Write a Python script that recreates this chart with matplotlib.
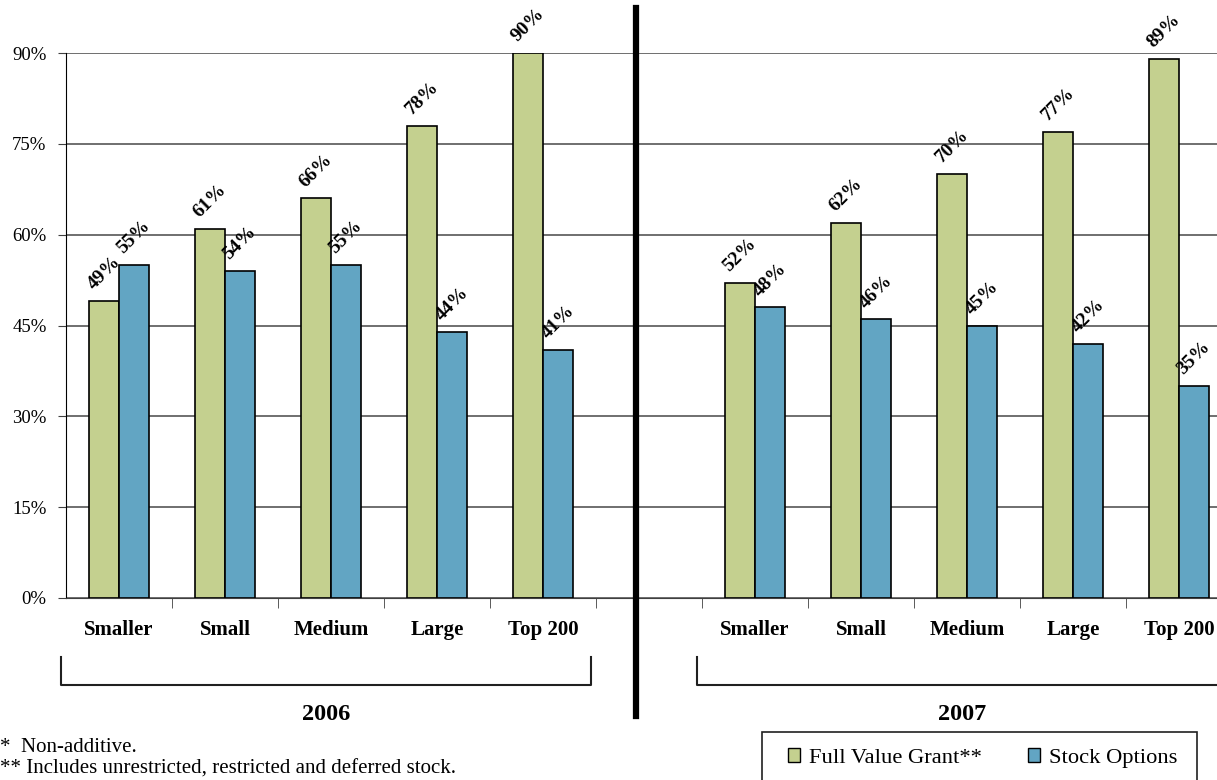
import numpy as np
import matplotlib
matplotlib.use("Agg")
import matplotlib.pyplot as plt
from matplotlib.lines import Line2D
from matplotlib.patches import Patch, Rectangle
from matplotlib.transforms import blended_transform_factory

plt.rcParams["font.family"] = ["Liberation Serif", "DejaVu Serif"]

# Share of companies granting each award type, by company size
sizes = ["Smaller", "Small", "Medium", "Large", "Top 200"]
years = ["2006", "2007"]
full_value_2006 = [49, 61, 66, 78, 90]
stock_options_2006 = [55, 54, 55, 44, 41]
full_value_2007 = [52, 62, 70, 77, 89]
stock_options_2007 = [48, 46, 45, 42, 35]
y_ticks = [0, 15, 30, 45, 60, 75, 90]

GREEN = "#C4D08F"
BLUE = "#62A5C3"
W, H = 1217, 780

fig = plt.figure(figsize=(W / 100, H / 100), dpi=100)
# axes runs past the right edge of the page, like the original slide
ax = fig.add_axes([66 / W, (H - 598) / H, 1166 / W, 545 / H])

# one axis, 5 categories per year with an empty slot between the years
pos_2006 = np.arange(5)
pos_2007 = np.arange(5) + 6
bw = 0.283

full = full_value_2006 + full_value_2007
opts = stock_options_2006 + stock_options_2007
pos = np.concatenate([pos_2006, pos_2007])

bars_full = ax.bar(pos - bw / 2, full, bw, color=GREEN, edgecolor="black", linewidth=1.2, zorder=3)
bars_opts = ax.bar(pos + bw / 2, opts, bw, color=BLUE, edgecolor="black", linewidth=1.2, zorder=3)

# rotated value labels above each bar
for bars, vals in [(bars_full, full), (bars_opts, opts)]:
    for b, v in zip(bars, vals):
        ax.annotate(f"{v}%", (b.get_x() + b.get_width() / 2, v), xytext=(0, 20),
                    textcoords="offset points", rotation=45, rotation_mode="anchor",
                    ha="center", va="center", fontsize=14, fontweight="bold",
                    annotation_clip=False, clip_on=False)

ax.set_xlim(-0.5, 10.5)
ax.set_ylim(0, 90)
ax.set_yticks(y_ticks)
ax.set_yticklabels([f"{t}%" for t in y_ticks], fontsize=13.5)
ax.yaxis.grid(True, color="#484848", linewidth=1.1, zorder=0)
ax.set_axisbelow(True)

ax.set_xticks(pos)
ax.set_xticklabels(sizes * 2, fontsize=15, fontweight="bold")
ax.set_xticks(np.arange(10) + 0.5, minor=True)
ax.tick_params(axis="x", which="major", length=0, pad=16)
ax.tick_params(axis="x", which="minor", length=7, color="#404040")
ax.tick_params(axis="y", length=6, color="#404040", pad=8)

for side in ["top", "right"]:
    ax.spines[side].set_visible(False)
ax.spines["left"].set_color("black")
ax.spines["bottom"].set_color("#404040")

# year brackets under the category labels
trans = blended_transform_factory(ax.transData, ax.transAxes)
for start, year in zip([pos_2006[0], pos_2007[0]], years):
    x0, x1 = start - 0.55, start + 4.45
    ax.add_line(Line2D([x0, x0, x1, x1], [-0.108, -0.160, -0.160, -0.108],
                       transform=trans, color="#202020", linewidth=1.5, clip_on=False))
    ax.text((x0 + x1) / 2, -0.214, year, transform=trans, ha="center", va="center",
            fontsize=17.5, fontweight="bold")

# heavy divider between the two years
fig.add_artist(Line2D([636 / W, 636 / W], [(H - 8) / H, (H - 716) / H],
                      color="black", linewidth=4.5))

fig.text(0.0, (H - 747) / H, "*  Non-additive.", fontsize=15, va="center")
fig.text(0.0, (H - 769) / H, "** Includes unrestricted, restricted and deferred stock.",
         fontsize=15, va="center")

# legend box runs off the bottom of the page
fig.add_artist(Rectangle((762 / W, (H - 800) / H), 435 / W, 68 / H,
                         transform=fig.transFigure, facecolor="white",
                         edgecolor="#202020", linewidth=1.2))
handles = [Patch(facecolor=GREEN, edgecolor="black"), Patch(facecolor=BLUE, edgecolor="black")]
fig.legend(handles, ["Full Value Grant**", "Stock Options"], ncol=2,
           loc="center left", bbox_to_anchor=(788 / W, (H - 758) / H),
           frameon=False, fontsize=16.2, handlelength=0.54, handleheight=0.54,
           handletextpad=0.4, columnspacing=2.05, borderpad=0, borderaxespad=0)

fig.savefig("out.png", dpi=100)
